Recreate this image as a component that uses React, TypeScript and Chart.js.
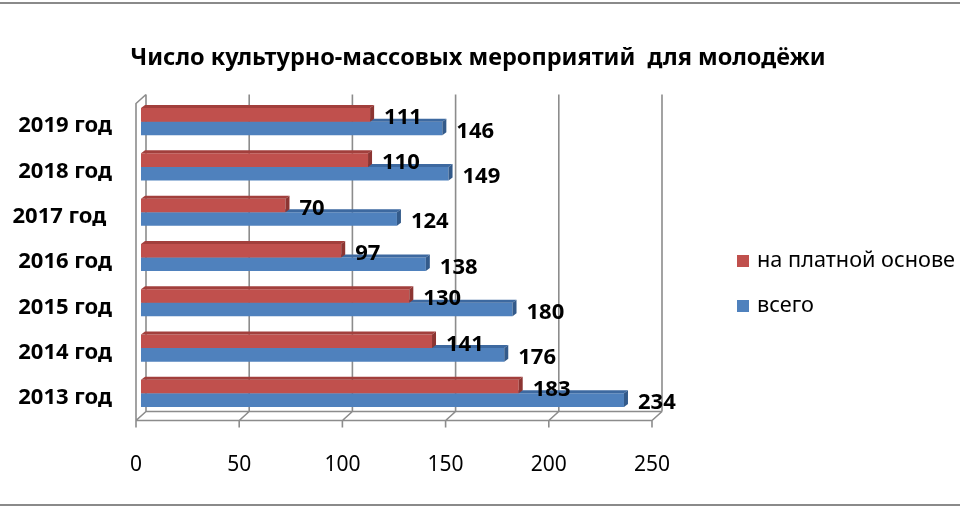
import { useEffect, useRef } from "react";
import { Chart, registerables } from "chart.js";

Chart.register(...registerables);

const years = ["2019 год", "2018 год", "2017 год ", "2016 год", "2015 год", "2014 год", "2013 год"];
const paid = [111, 110, 70, 97, 130, 141, 183];
const total = [146, 149, 124, 138, 180, 176, 234];
const seriesNames = ["на платной основе", "всего"];
const chartTitle = "Число культурно-массовых мероприятий  для молодёжи";

const FONT = "'Noto Sans', sans-serif";
const RED = "#C0504D";
const BLUE = "#4F81BD";
const faceColors = [
  { top: "#A23F3C", side: "#8C3532" },
  { top: "#3D69A0", side: "#335A8A" },
];
// half depth of the 3D walls, bars are drawn on the mid plane
const WALL = { dx: 5, dy: 4.5 };
const BAR = { dx: 4, dy: 3 };

const framePlugin = {
  id: "frame3d",
  beforeDraw(chart: Chart) {
    const { ctx, width, height } = chart;
    ctx.save();
    ctx.strokeStyle = "#8a8a8a";
    ctx.lineWidth = 2;
    ctx.beginPath();
    ctx.moveTo(0, 3);
    ctx.lineTo(width, 3);
    ctx.moveTo(0, height - 5);
    ctx.lineTo(width, height - 5);
    ctx.stroke();
    ctx.restore();
  },
  beforeDatasetsDraw(chart: Chart) {
    const { ctx, chartArea } = chart;
    const xs = chart.scales.x;
    const fTop = chartArea.top + WALL.dy;
    const fBot = chartArea.bottom + WALL.dy;
    const bTop = chartArea.top - WALL.dy;
    const bBot = chartArea.bottom - WALL.dy;
    const px = xs.ticks.map((t) => xs.getPixelForValue(t.value));
    const first = px[0];
    const last = px[px.length - 1];
    ctx.save();
    ctx.strokeStyle = "#8c8c8c";
    ctx.lineWidth = 1.6;
    ctx.beginPath();
    px.forEach((p) => {
      ctx.moveTo(p + WALL.dx, bTop);
      ctx.lineTo(p + WALL.dx, bBot);
      ctx.moveTo(p - WALL.dx, fBot);
      ctx.lineTo(p + WALL.dx, bBot);
      ctx.moveTo(p - WALL.dx, fBot);
      ctx.lineTo(p - WALL.dx, fBot + 7);
    });
    ctx.moveTo(first - WALL.dx, fBot);
    ctx.lineTo(last - WALL.dx, fBot);
    ctx.moveTo(first + WALL.dx, bBot);
    ctx.lineTo(last + WALL.dx, bBot);
    ctx.moveTo(first - WALL.dx, fBot);
    ctx.lineTo(first - WALL.dx, fTop);
    ctx.lineTo(first + WALL.dx, bTop);
    ctx.stroke();
    ctx.restore();
  },
  afterDatasetDraw(chart: Chart, args: any) {
    const { ctx } = chart;
    const faces = faceColors[args.index];
    ctx.save();
    args.meta.data.forEach((el: any) => {
      const { x, y, base, height } = el.getProps(["x", "y", "base", "height"], true);
      const top = y - height / 2;
      const bot = y + height / 2;
      ctx.fillStyle = faces.top;
      ctx.beginPath();
      ctx.moveTo(base, top);
      ctx.lineTo(x, top);
      ctx.lineTo(x + BAR.dx, top - BAR.dy);
      ctx.lineTo(base + BAR.dx, top - BAR.dy);
      ctx.closePath();
      ctx.fill();
      ctx.fillStyle = faces.side;
      ctx.beginPath();
      ctx.moveTo(x, top);
      ctx.lineTo(x + BAR.dx, top - BAR.dy);
      ctx.lineTo(x + BAR.dx, bot - BAR.dy);
      ctx.lineTo(x, bot);
      ctx.closePath();
      ctx.fill();
    });
    ctx.restore();
  },
  afterDatasetsDraw(chart: Chart) {
    const { ctx } = chart;
    ctx.save();
    ctx.fillStyle = "#000";
    ctx.font = `bold 22px ${FONT}`;
    ctx.textAlign = "left";
    ctx.textBaseline = "middle";
    chart.data.datasets.forEach((ds, di) => {
      chart.getDatasetMeta(di).data.forEach((el: any, i) => {
        ctx.fillText(String(ds.data[i]), el.x + 14, el.y + 3);
      });
    });
    ctx.restore();
  },
  afterDraw(chart: Chart) {
    const { ctx } = chart;
    ctx.save();
    ctx.fillStyle = "#000";
    ctx.textBaseline = "middle";
    ctx.textAlign = "center";
    ctx.font = `bold 23.5px ${FONT}`;
    ctx.fillText(chartTitle, 478, 58);
    ctx.textAlign = "left";
    ctx.font = `21.7px ${FONT}`;
    chart.data.datasets.forEach((ds, i) => {
      const y = 261 + i * 45;
      ctx.fillStyle = ds.backgroundColor as string;
      ctx.fillRect(737, y - 6, 12, 12);
      ctx.fillStyle = "#000";
      ctx.fillText(ds.label as string, 757, y);
    });
    ctx.restore();
  },
};

export default function App() {
  const canvasRef = useRef<HTMLCanvasElement>(null);
  const chartRef = useRef<Chart | null>(null);

  useEffect(() => {
    document.body.style.margin = "0";
    if (!canvasRef.current) return;
    if (chartRef.current) chartRef.current.destroy();

    chartRef.current = new Chart(canvasRef.current, {
      type: "bar",
      data: {
        labels: years,
        datasets: [
          {
            label: seriesNames[0],
            data: paid,
            backgroundColor: RED,
            borderWidth: 0,
            categoryPercentage: 0.6,
            barPercentage: 1,
          },
          {
            label: seriesNames[1],
            data: total,
            backgroundColor: BLUE,
            borderWidth: 0,
            categoryPercentage: 0.6,
            barPercentage: 1,
          },
        ],
      },
      plugins: [framePlugin],
      options: {
        indexAxis: "y",
        responsive: true,
        maintainAspectRatio: false,
        animation: false,
        layout: { padding: { top: 99, right: 303, left: 0, bottom: 0 } },
        plugins: {
          legend: { display: false },
          title: { display: false },
          tooltip: { enabled: false },
        },
        scales: {
          x: {
            min: 0,
            max: 250,
            grid: { display: false, drawTicks: false },
            border: { display: false },
            ticks: {
              stepSize: 50,
              color: "#000",
              padding: 36,
              labelOffset: -WALL.dx,
              font: { family: FONT, size: 21 },
            },
            afterFit(scale: any) {
              scale.height = 94;
            },
          },
          y: {
            grid: { display: false, drawTicks: false },
            border: { display: false },
            ticks: {
              color: "#000",
              padding: 29,
              labelOffset: WALL.dy,
              font: { family: FONT, size: 22, weight: "bold" },
            },
            afterFit(scale: any) {
              scale.width = 141;
            },
          },
        },
      },
    });

    return () => {
      if (chartRef.current) {
        chartRef.current.destroy();
        chartRef.current = null;
      }
    };
  }, []);

  return (
    <div style={{ width: 960, height: 510, position: "relative" }}>
      <canvas ref={canvasRef}></canvas>
    </div>
  );
}
